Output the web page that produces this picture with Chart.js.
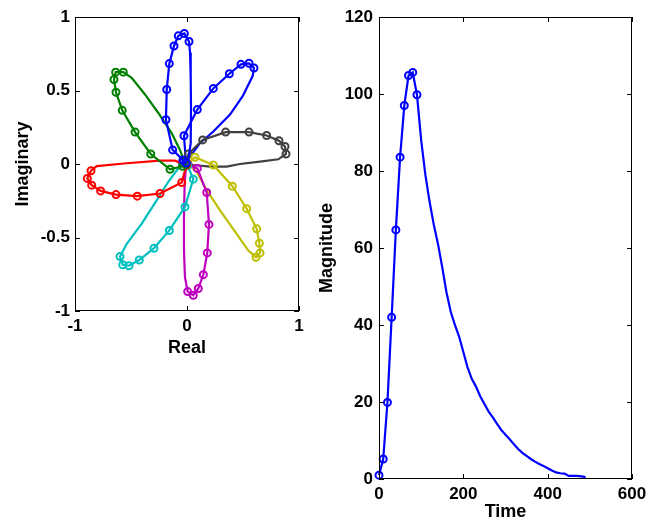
<!DOCTYPE html>
<html>
<head>
<meta charset="utf-8">
<script src="https://cdn.jsdelivr.net/npm/chart.js@4"></script>
<style>
  body { margin: 0; background: #fff; }
  #left { position: absolute; left: 0; top: 0; }
  #right { position: absolute; left: 300px; top: 0; }
</style>
</head>
<body>
<canvas id="left" width="320" height="365"></canvas>
<canvas id="right" width="362" height="523"></canvas>
<script>
// petals of the complex plane plot (first N points carry markers)
const blue1Re = [-0.008, -0.036, -0.128, -0.188, -0.181, -0.158, -0.116, -0.078, -0.024, 0.018, 0.027, 0.033, 0.036, 0.033, 0.012];
const blue1Im = [0.006, 0.027, 0.096, 0.301, 0.507, 0.683, 0.803, 0.872, 0.888, 0.833, 0.758, 0.598, 0.370, 0.142, 0.027];
const greenRe = [-0.010, -0.040, -0.152, -0.324, -0.464, -0.578, -0.634, -0.652, -0.637, -0.569, -0.494, -0.375, -0.256, -0.137, -0.063, -0.018];
const greenIm = [-0.003, -0.015, -0.036, 0.068, 0.217, 0.365, 0.488, 0.575, 0.625, 0.625, 0.587, 0.473, 0.347, 0.210, 0.096, 0.005];
const redRe = [-0.005, -0.047, -0.241, -0.444, -0.634, -0.771, -0.851, -0.890, -0.857, -0.806, -0.538, -0.241, -0.107, -0.033];
const redIm = [-0.008, -0.126, -0.201, -0.219, -0.208, -0.183, -0.144, -0.098, -0.046, -0.014, 0.005, 0.023, 0.023, 0.000];
const cyanRe = [0.005, 0.056, -0.018, -0.158, -0.295, -0.426, -0.518, -0.574, -0.598, -0.538, -0.404, -0.271, -0.167, -0.078, -0.010];
const cyanIm = [-0.010, -0.103, -0.292, -0.452, -0.573, -0.653, -0.692, -0.685, -0.630, -0.543, -0.406, -0.247, -0.121, -0.030, 0.000];
const magentaRe = [0.008, 0.092, 0.176, 0.196, 0.181, 0.146, 0.101, 0.056, 0.006, -0.018, -0.027, -0.027, -0.021, -0.009];
const magentaIm = [-0.003, -0.030, -0.194, -0.411, -0.605, -0.753, -0.847, -0.893, -0.868, -0.772, -0.589, -0.361, -0.132, -0.018];
const yellowRe = [0.008, 0.071, 0.235, 0.405, 0.533, 0.622, 0.646, 0.652, 0.616, 0.548, 0.443, 0.295, 0.176, 0.086, 0.010];
const yellowIm = [0.004, 0.046, -0.007, -0.151, -0.304, -0.441, -0.539, -0.605, -0.635, -0.589, -0.475, -0.315, -0.178, -0.053, 0.000];
const grayRe = [0.004, 0.012, 0.140, 0.345, 0.554, 0.711, 0.821, 0.875, 0.884, 0.815, 0.652, 0.473, 0.354, 0.205, 0.056, 0.005];
const grayIm = [0.006, 0.068, 0.164, 0.217, 0.217, 0.194, 0.158, 0.119, 0.068, 0.032, 0.016, 0.000, -0.018, -0.018, -0.007, 0.000];
const blue2Re = [-0.040, -0.010, -0.027, 0.092, 0.235, 0.378, 0.482, 0.554, 0.598, 0.586, 0.497, 0.384, 0.235, 0.116, 0.027];
const blue2Im = [0.010, 0.020, 0.192, 0.370, 0.514, 0.614, 0.678, 0.685, 0.653, 0.598, 0.461, 0.336, 0.221, 0.142, 0.050];
const markCounts = [10, 10, 9, 9, 9, 9, 9, 9];

// magnitude vs time
const timeValues = [0, 10, 20, 30, 40, 50, 60, 70, 80, 90, 100, 110, 120, 130, 140, 150, 160, 170, 180, 190,
  200, 210, 220, 230, 240, 250, 260, 270, 280, 290, 300, 310, 320, 330, 340, 350, 360, 370, 380, 390,
  400, 410, 420, 430, 440, 450, 460, 470, 480, 490];
const magnitude = [1, 5.2, 19.9, 42, 64.7, 83.6, 97, 104.8, 105.6, 99.8, 88, 79, 72, 66, 61, 55, 48.5, 43.5, 40, 37,
  33, 29, 26, 24, 21.5, 19.5, 17.5, 16, 14.3, 12.7, 11.5, 10.3, 9, 7.8, 6.8, 6, 5.2, 4.5, 3.9, 3.4,
  2.8, 2.2, 1.7, 1.5, 1.4, 0.8, 0.8, 0.8, 0.7, 0.5];
const magMarked = 10;

const realTicks = [-1, 0, 1];
const imagTicks = [-1, -0.5, 0, 0.5, 1];
const timeTicks = [0, 200, 400, 600];
const magTicks = [0, 20, 40, 60, 80, 100, 120];

const petals = [
  [blue1Re, blue1Im, "#0000ff"],
  [greenRe, greenIm, "#008000"],
  [redRe, redIm, "#ff0000"],
  [cyanRe, cyanIm, "#00bfbf"],
  [magentaRe, magentaIm, "#bf00bf"],
  [yellowRe, yellowIm, "#bfbf00"],
  [grayRe, grayIm, "#404040"],
  [blue2Re, blue2Im, "#0000ff"]
];

Chart.defaults.font.family = "'Liberation Sans', Arial, sans-serif";
Chart.defaults.color = "#000";

const tickFont = { size: 17, weight: "bold" };
const titleFont = { size: 18, weight: "bold" };

// box with inward ticks, matlab style
const boxPlugin = {
  id: "box",
  afterDraw(chart) {
    const { ctx, chartArea: a, scales } = chart;
    ctx.save();
    ctx.strokeStyle = "#000";
    ctx.lineWidth = 1;
    ctx.strokeRect(a.left + 0.5, a.top + 0.5, a.right - a.left - 1, a.bottom - a.top - 1);
    ctx.beginPath();
    scales.x.ticks.forEach(t => {
      const px = Math.round(scales.x.getPixelForValue(t.value)) + 0.5;
      ctx.moveTo(px, a.bottom); ctx.lineTo(px, a.bottom - 5);
      ctx.moveTo(px, a.top); ctx.lineTo(px, a.top + 5);
    });
    scales.y.ticks.forEach(t => {
      const py = Math.round(scales.y.getPixelForValue(t.value)) + 0.5;
      ctx.moveTo(a.left, py); ctx.lineTo(a.left + 5, py);
      ctx.moveTo(a.right, py); ctx.lineTo(a.right - 5, py);
    });
    ctx.stroke();
    ctx.restore();
  }
};

function axis(ticksList, title, size, isX, tickPad, titlePad) {
  return {
    type: "linear",
    min: ticksList[0],
    max: ticksList[ticksList.length - 1],
    afterBuildTicks: s => { s.ticks = ticksList.map(v => ({ value: v })); },
    grid: { display: false, drawTicks: false },
    border: { display: false },
    ticks: { font: tickFont, padding: tickPad, maxRotation: 0, autoSkip: false, callback: v => String(v) },
    title: { display: true, text: title, font: titleFont, padding: titlePad },
    afterFit: s => { if (isX) s.height = size; else s.width = size; }
  };
}

new Chart(document.getElementById("left"), {
  type: "scatter",
  data: {
    datasets: petals.map((p, i) => ({
      data: p[0].map((re, j) => ({ x: re, y: p[1][j] })),
      showLine: true,
      borderColor: p[2],
      borderWidth: 2.2,
      pointBorderColor: p[2],
      pointBackgroundColor: "rgba(0,0,0,0)",
      pointBorderWidth: 2,
      pointRadius: ctx => ctx.dataIndex < markCounts[i] ? 3.5 : 0,
      tension: 0,
      clip: false
    }))
  },
  options: {
    responsive: false,
    animation: false,
    layout: { padding: { top: 17, right: 21, left: 0, bottom: 0 } },
    plugins: { legend: { display: false }, tooltip: { enabled: false } },
    scales: {
      x: axis(realTicks, "Real", 54, true, 5, { top: 0, bottom: 6 }),
      y: axis(imagTicks, "Imaginary", 75, false, 5, { top: 12, bottom: 0 })
    }
  },
  plugins: [boxPlugin]
});

new Chart(document.getElementById("right"), {
  type: "scatter",
  data: {
    datasets: [{
      data: timeValues.map((t, j) => ({ x: t, y: magnitude[j] })),
      showLine: true,
      borderColor: "#0000ff",
      borderWidth: 2.2,
      pointBorderColor: "#0000ff",
      pointBackgroundColor: "rgba(0,0,0,0)",
      pointBorderWidth: 2,
      pointRadius: ctx => ctx.dataIndex < magMarked ? 3.5 : 0,
      tension: 0,
      clip: false
    }]
  },
  options: {
    responsive: false,
    animation: false,
    layout: { padding: { top: 17, right: 30, left: 0, bottom: 0 } },
    plugins: { legend: { display: false }, tooltip: { enabled: false } },
    scales: {
      x: axis(timeTicks, "Time", 44, true, 5, { top: 0, bottom: 0 }),
      y: axis(magTicks, "Magnitude", 79, false, 6, { top: 16, bottom: 0 })
    }
  },
  plugins: [boxPlugin]
});
</script>
</body>
</html>
